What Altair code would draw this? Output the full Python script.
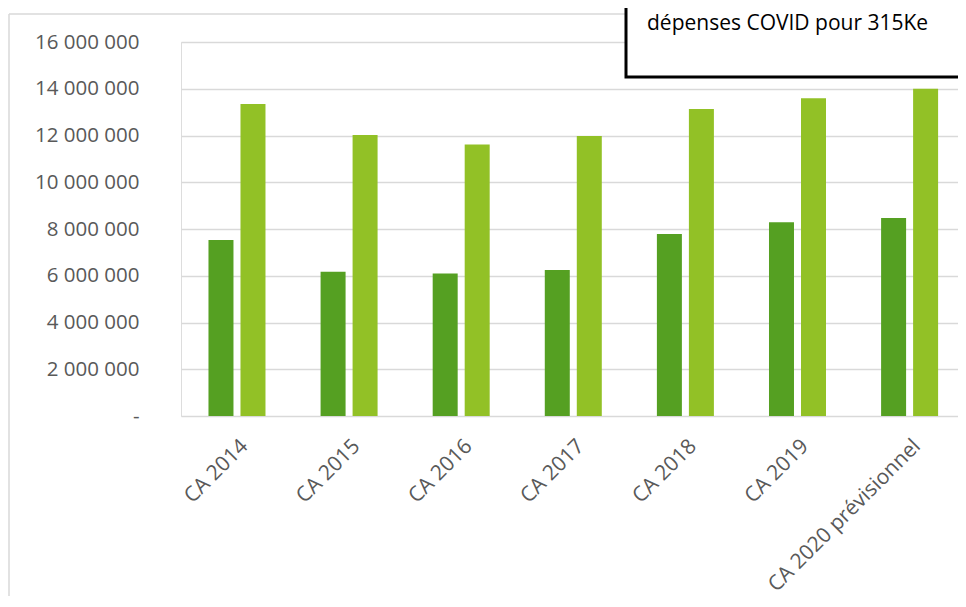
import altair as alt
import pandas as pd

categories = ["CA 2014", "CA 2015", "CA 2016", "CA 2017", "CA 2018", "CA 2019", "CA 2020 prévisionnel"]
series_names = ["Série 1", "Série 2"]
series1 = [7530000, 6170000, 6100000, 6250000, 7790000, 8290000, 8470000]
series2 = [13350000, 12020000, 11620000, 11980000, 13130000, 13590000, 14000000]
colors = ["#55A022", "#92C126"]
y_ticks = [0, 2000000, 4000000, 6000000, 8000000, 10000000, 12000000, 14000000, 16000000]
note_text = "dépenses COVID pour 315Ke"

rows = []
for c, a, b in zip(categories, series1, series2):
    rows.append({"cat": c, "serie": series_names[0], "val": a})
    rows.append({"cat": c, "serie": series_names[1], "val": b})
df = pd.DataFrame(rows)

PW, PH = 777, 374
FONT = "Open Sans"

nb = "\u00a0"
label_expr = (
    "datum.value == 0 ? '-" + nb * 3 + "' : "
    "replace(replace(format(datum.value, ','), ',', ' '), ',', ' ')"
)

bars = alt.Chart(df).mark_bar().encode(
    x=alt.X("cat:N", sort=categories, title=None,
            scale=alt.Scale(paddingInner=0.4915, paddingOuter=0.2113, align=0.58),
            axis=alt.Axis(labelAngle=-45, domain=False, ticks=False, labelFont=FONT,
                          labelFontSize=21, labelColor="#595959", labelPadding=19,
                          bandPosition=0.4, labelLimit=400)),
    xOffset=alt.XOffset("serie:N", sort=series_names,
                        scale=alt.Scale(paddingInner=0.219, paddingOuter=0)),
    y=alt.Y("val:Q", stack=None, title=None,
            scale=alt.Scale(domain=[0, 16000000], nice=False),
            axis=alt.Axis(values=y_ticks, labelExpr=label_expr, domain=False, ticks=False,
                          labelFont=FONT, labelFontSize=20.5, labelColor="#595959",
                          labelPadding=42, gridColor="#d9d9d9", gridWidth=1.5)),
    color=alt.Color("serie:N", sort=series_names,
                    scale=alt.Scale(domain=series_names, range=colors), legend=None),
)

ann = pd.DataFrame({"t": [note_text]})

box = alt.Chart(ann).mark_rect(fill="white", stroke="black", strokeWidth=3).encode(
    x=alt.value(445), x2=alt.value(820), y=alt.value(-70), y2=alt.value(35)
)
note = alt.Chart(ann).mark_text(align="left", baseline="alphabetic", font=FONT,
                                fontSize=21, color="black").encode(
    x=alt.value(466), y=alt.value(-12), text="t:N"
)
border_left = alt.Chart(ann).mark_rule(color="#d9d9d9", strokeWidth=1.5).encode(
    x=alt.value(-172), y=alt.value(-28), y2=alt.value(600)
)
border_top = alt.Chart(ann).mark_rule(color="#d9d9d9", strokeWidth=1.5).encode(
    x=alt.value(-172), x2=alt.value(445), y=alt.value(-28)
)

chart = alt.layer(border_left, border_top, bars, box, note).properties(
    width=PW, height=PH,
    autosize=alt.AutoSizeParams(type="none"),
    padding={"left": 173, "top": 34, "right": 0, "bottom": 180},
).configure_view(stroke=None).configure(background="white")

chart.save("out.html", embed_options={"renderer": "svg", "actions": False})
